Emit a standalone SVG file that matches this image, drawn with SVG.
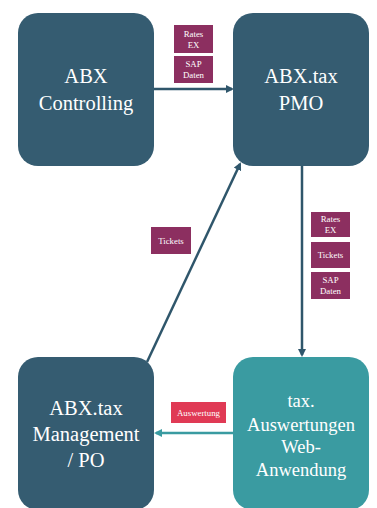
<svg xmlns="http://www.w3.org/2000/svg" width="377" height="508" viewBox="0 0 377 508">
<style>
.node{fill:#355c71}
.teal{fill:#3a9ba1}
.nt{fill:#ffffff;text-anchor:middle}
.lbl{fill:#8c2f60}
.lt{fill:#ffffff;font-size:8.8px;text-anchor:middle}
.edge{stroke:#2f566b;stroke-width:2.5;fill:none}
.edge2{stroke:#3a9ba1;stroke-width:2.5;fill:none}
</style>
<defs>
<marker id="ah" markerWidth="8" markerHeight="8" refX="6" refY="4" orient="auto" markerUnits="userSpaceOnUse"><path d="M0,0 L8,4 L0,8 z" fill="#2f566b"/></marker>
<marker id="ah2" markerWidth="8" markerHeight="8" refX="6" refY="4" orient="auto" markerUnits="userSpaceOnUse"><path d="M0,0 L8,4 L0,8 z" fill="#3a9ba1"/></marker>
</defs>
<rect width="377" height="508" fill="#ffffff"/>
<g id="connectors">
<line class="edge" x1="154" y1="89" x2="232" y2="89" marker-end="url(#ah)"/>
<line class="edge" x1="302" y1="166" x2="302" y2="355" marker-end="url(#ah)"/>
<line class="edge" x1="147" y1="362" x2="240" y2="164" marker-end="url(#ah)"/>
<line class="edge2" x1="233" y1="433" x2="156" y2="433" marker-end="url(#ah2)"/>
</g>
<g font-family="Liberation Serif, Times New Roman, DejaVu Serif, serif">
<g id="controlling">
<rect class="node" x="18" y="13" width="136" height="153" rx="20"/>
<text class="nt" font-size="20.5"><tspan x="86" y="83">ABX</tspan><tspan x="86" y="110">Controlling</tspan></text>
</g>
<g id="pmo">
<rect class="node" x="233" y="13" width="136" height="153" rx="20"/>
<text class="nt" font-size="20.5"><tspan x="301" y="83">ABX.tax</tspan><tspan x="301" y="110">PMO</tspan></text>
</g>
<g id="management">
<rect class="node" x="18" y="357" width="136" height="153" rx="20"/>
<text class="nt" font-size="20.5"><tspan x="86" y="415">ABX.tax</tspan><tspan x="86" y="441">Management</tspan><tspan x="86" y="467">/ PO</tspan></text>
</g>
<g id="webapp">
<rect class="teal" x="233" y="357" width="136" height="153" rx="20"/>
<text class="nt" font-size="18.5"><tspan x="301" y="407">tax.</tspan><tspan x="301" y="431">Auswertungen</tspan><tspan x="301" y="453">Web-</tspan><tspan x="301" y="476">Anwendung</tspan></text>
</g>
<g id="labels">
<rect class="lbl" x="174" y="25" width="39" height="28"/>
<text class="lt"><tspan x="193.5" y="36.5">Rates</tspan><tspan x="193.5" y="47.5">EX</tspan></text>
<rect class="lbl" x="174" y="56" width="39" height="27"/>
<text class="lt"><tspan x="193.5" y="67">SAP</tspan><tspan x="193.5" y="78">Daten</tspan></text>
<rect class="lbl" x="311" y="212" width="39" height="25"/>
<text class="lt"><tspan x="330.5" y="221.5">Rates</tspan><tspan x="330.5" y="232.5">EX</tspan></text>
<rect class="lbl" x="311" y="242" width="39" height="26"/>
<text class="lt"><tspan x="330.5" y="258">Tickets</tspan></text>
<rect class="lbl" x="311" y="272" width="39" height="27"/>
<text class="lt"><tspan x="330.5" y="283">SAP</tspan><tspan x="330.5" y="294">Daten</tspan></text>
<rect class="lbl" x="151" y="227" width="40" height="27"/>
<text class="lt"><tspan x="171" y="243.5">Tickets</tspan></text>
<rect x="171" y="402" width="55" height="21" fill="#e03a55"/>
<text class="lt"><tspan x="198.5" y="415.5">Auswertung</tspan></text>
</g>
</g>
</svg>
